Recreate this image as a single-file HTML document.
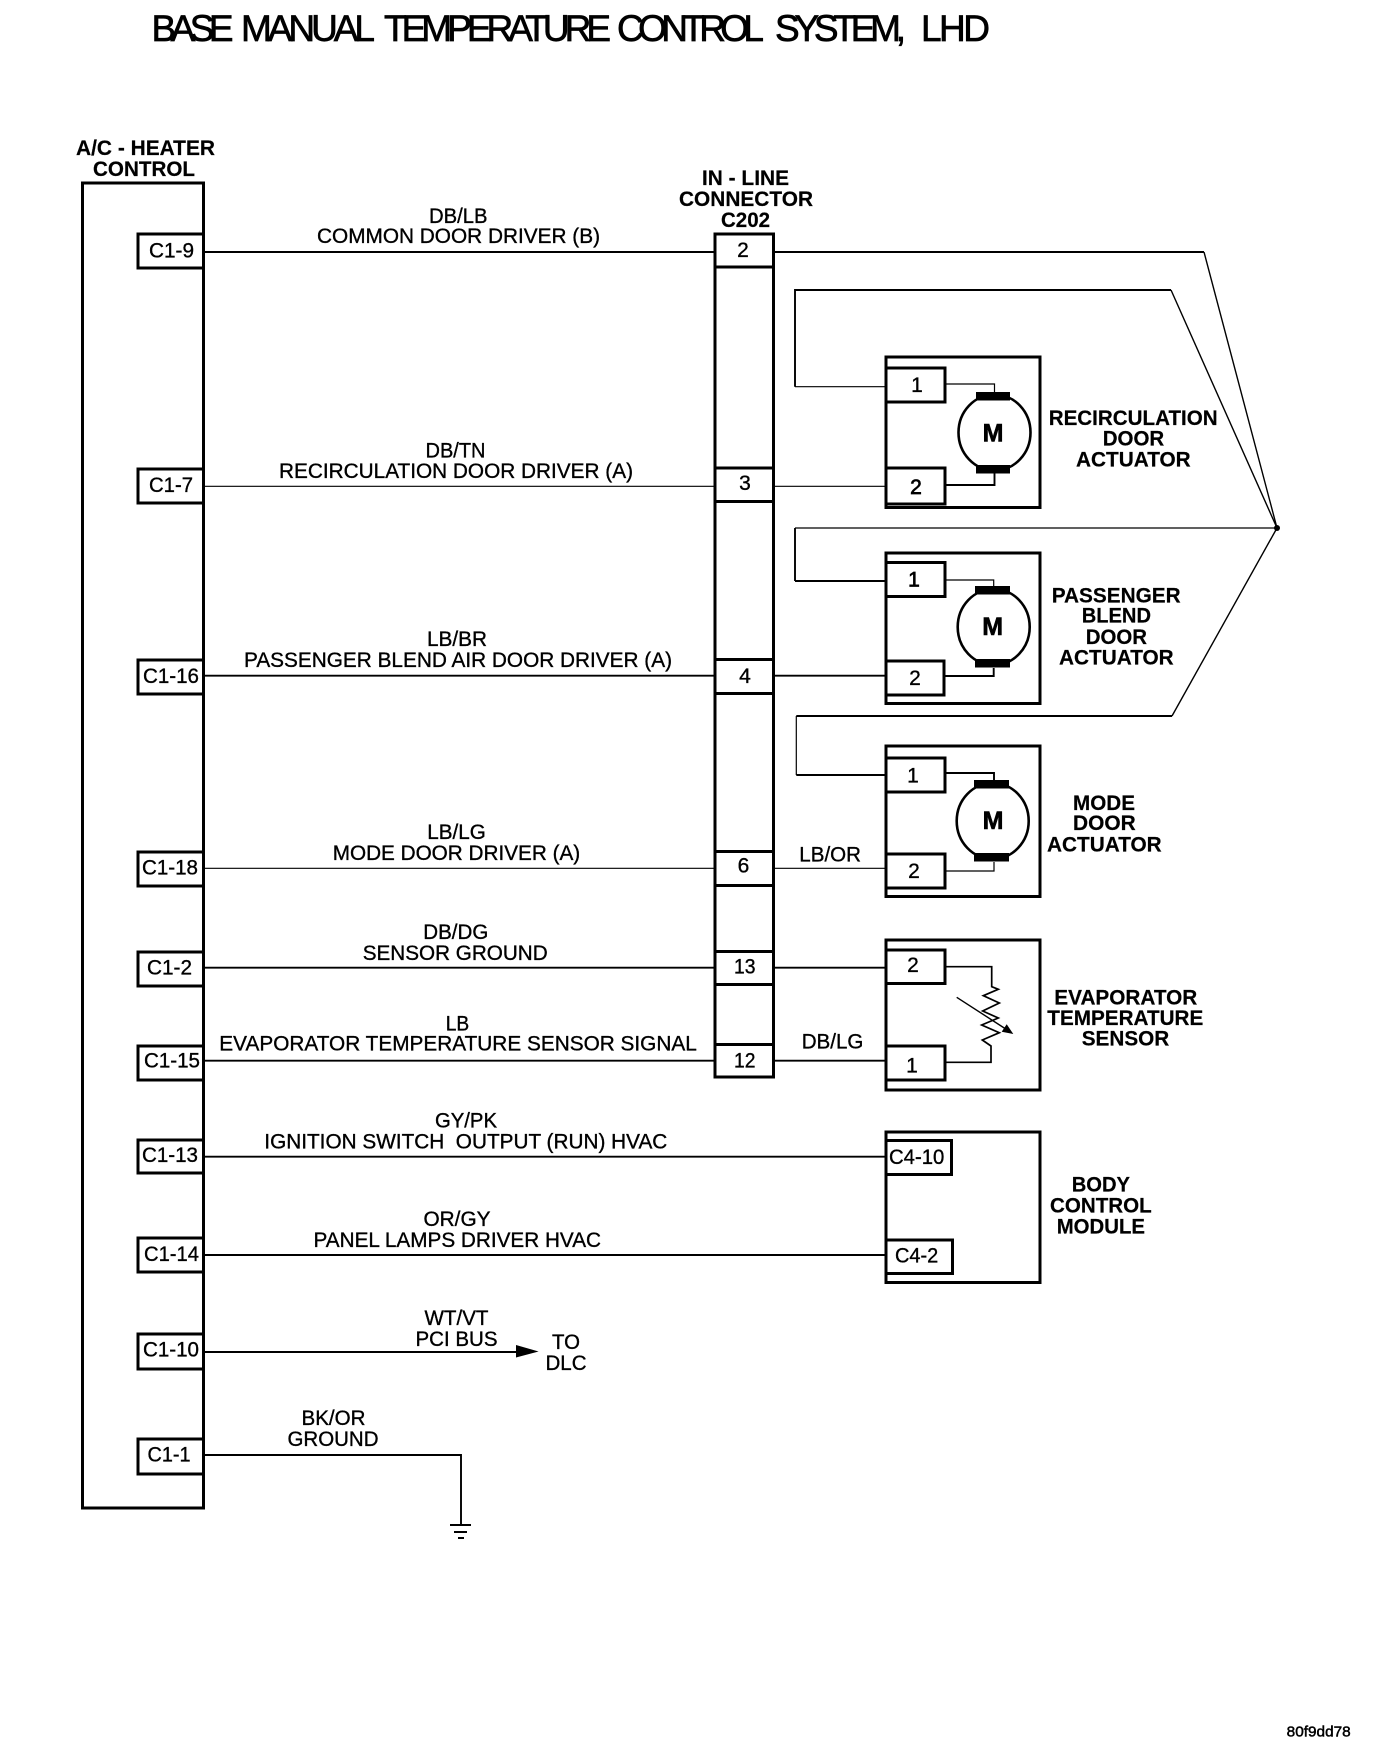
<!DOCTYPE html>
<html><head><meta charset="utf-8"><title>Base Manual Temperature Control System, LHD</title>
<style>
html,body{margin:0;padding:0;background:#fff;width:1392px;height:1750px;overflow:hidden}
svg{display:block}
text{font-family:"Liberation Sans",sans-serif;font-size:21px;fill:#000;stroke:#000;stroke-width:.35;white-space:pre}
.b{font-weight:bold;stroke-width:.2}
.h{font-size:37px;stroke-width:.7}
.box{fill:#fff;stroke:#000;stroke-width:3}
.w{fill:none;stroke:#000;stroke-width:1.9}
.t{fill:none;stroke:#000;stroke-width:1.2}
.d{fill:none;stroke:#000;stroke-width:1.4}
.m{fill:#fff;stroke:#000;stroke-width:2.6}
</style></head><body>
<svg xmlns="http://www.w3.org/2000/svg" width="1392" height="1750" viewBox="0 0 1392 1750">
<rect width="1392" height="1750" fill="#fff"/>
<text class="h" x="151.500" y="41" textLength="82" lengthAdjust="spacing">BASE</text>
<text class="h" x="241" y="41" textLength="134" lengthAdjust="spacing">MANUAL</text>
<text class="h" x="384" y="41" textLength="227" lengthAdjust="spacing">TEMPERATURE</text>
<text class="h" x="617" y="41" textLength="147" lengthAdjust="spacing">CONTROL</text>
<text class="h" x="775" y="41" textLength="131" lengthAdjust="spacing">SYSTEM,</text>
<text class="h" x="921" y="41" textLength="69" lengthAdjust="spacing">LHD</text>

<!-- A/C heater control -->
<rect class="box" x="82.500" y="183" width="121" height="1325"/>
<text class="b" x="76" y="155" textLength="139" lengthAdjust="spacingAndGlyphs">A/C - HEATER</text>
<text class="b" x="93" y="176" textLength="102" lengthAdjust="spacingAndGlyphs">CONTROL</text>

<rect class="box" x="138" y="234" width="65.500" height="34"/>
<rect class="box" x="138" y="469" width="65.500" height="34"/>
<rect class="box" x="138" y="660" width="65.500" height="34"/>
<rect class="box" x="138" y="852" width="65.500" height="34"/>
<rect class="box" x="138" y="952" width="65.500" height="34"/>
<rect class="box" x="138" y="1046" width="65.500" height="34"/>
<rect class="box" x="138" y="1140" width="65.500" height="33"/>
<rect class="box" x="138" y="1238" width="65.500" height="34"/>
<rect class="box" x="138" y="1334" width="65.500" height="35"/>
<rect class="box" x="138" y="1439" width="65.500" height="35"/>

<text x="149" y="257.500" textLength="45" lengthAdjust="spacingAndGlyphs">C1-9</text>
<text x="149" y="492" textLength="44" lengthAdjust="spacingAndGlyphs">C1-7</text>
<text x="143" y="683" textLength="56" lengthAdjust="spacingAndGlyphs">C1-16</text>
<text x="142" y="874.500" textLength="56" lengthAdjust="spacingAndGlyphs">C1-18</text>
<text x="147" y="974.500" textLength="45" lengthAdjust="spacingAndGlyphs">C1-2</text>
<text x="144" y="1067.500" textLength="56" lengthAdjust="spacingAndGlyphs">C1-15</text>
<text x="142" y="1162" textLength="56" lengthAdjust="spacingAndGlyphs">C1-13</text>
<text x="144" y="1261" textLength="55" lengthAdjust="spacingAndGlyphs">C1-14</text>
<text x="143" y="1356.500" textLength="56" lengthAdjust="spacingAndGlyphs">C1-10</text>
<text x="147.500" y="1461.500" textLength="43" lengthAdjust="spacingAndGlyphs">C1-1</text>

<!-- C202 -->
<rect class="box" x="715" y="234" width="58.500" height="843"/>
<g stroke="#000" stroke-width="3">
<line x1="715" x2="773.500" y1="267" y2="267"/>
<line x1="715" x2="773.500" y1="468" y2="468"/>
<line x1="715" x2="773.500" y1="501.500" y2="501.500"/>
<line x1="715" x2="773.500" y1="659.500" y2="659.500"/>
<line x1="715" x2="773.500" y1="693.500" y2="693.500"/>
<line x1="715" x2="773.500" y1="851.500" y2="851.500"/>
<line x1="715" x2="773.500" y1="885.500" y2="885.500"/>
<line x1="715" x2="773.500" y1="951.500" y2="951.500"/>
<line x1="715" x2="773.500" y1="984.500" y2="984.500"/>
<line x1="715" x2="773.500" y1="1044.500" y2="1044.500"/>
</g>
<text class="b" x="702" y="185" textLength="87" lengthAdjust="spacingAndGlyphs">IN - LINE</text>
<text class="b" x="679" y="206" textLength="134" lengthAdjust="spacingAndGlyphs">CONNECTOR</text>
<text class="b" x="721" y="227" textLength="49" lengthAdjust="spacingAndGlyphs">C202</text>
<text x="743" y="257" text-anchor="middle">2</text>
<text x="745" y="490" text-anchor="middle">3</text>
<text x="745" y="683" text-anchor="middle">4</text>
<text x="743.500" y="872.500" text-anchor="middle">6</text>
<text x="734" y="973.500" textLength="21.500" lengthAdjust="spacingAndGlyphs">13</text>
<text x="734" y="1067.500" textLength="21.500" lengthAdjust="spacingAndGlyphs">12</text>

<!-- main wires -->
<line class="w" x1="204" x2="715" y1="252" y2="252"/>
<line class="t" x1="204" x2="715" y1="486.300" y2="486.300"/>
<line class="t" x1="774" x2="885" y1="486.300" y2="486.300"/>
<line class="w" x1="204" x2="715" y1="675.700" y2="675.700"/>
<line class="w" x1="774" x2="885" y1="675.700" y2="675.700"/>
<line class="t" x1="204" x2="715" y1="868.300" y2="868.300"/>
<line class="t" x1="774" x2="885" y1="868.300" y2="868.300"/>
<line class="w" x1="204" x2="715" y1="967.700" y2="967.700"/>
<line class="w" x1="774" x2="885" y1="967.700" y2="967.700"/>
<line class="w" x1="204" x2="715" y1="1060.700" y2="1060.700"/>
<line class="w" x1="774" x2="885" y1="1060.700" y2="1060.700"/>
<line class="w" x1="204" x2="885" y1="1156.700" y2="1156.700"/>
<line class="w" x1="204" x2="885" y1="1255" y2="1255"/>
<line class="w" x1="204" x2="520" y1="1352" y2="1352"/>
<polygon points="516,1345 538.600,1351.500 516,1357.500" fill="#000"/>
<polyline class="w" points="204,1455 461,1455 461,1525"/>
<g stroke="#000" stroke-width="2">
<line x1="450" x2="471" y1="1525" y2="1525"/>
<line x1="454" x2="467" y1="1532" y2="1532"/>
<line x1="458" x2="464" y1="1538" y2="1538"/>
</g>

<!-- harness to splice -->
<line class="w" x1="774" x2="1204" y1="252" y2="252"/>
<line class="d" x1="1204" y1="252" x2="1277" y2="528"/>
<polyline class="w" points="795,386.700 795,290 1171,290"/>
<line class="d" x1="1171" y1="290" x2="1277" y2="528"/>
<line class="t" x1="795" x2="885" y1="386.700" y2="386.700"/>
<polyline class="t" points="1277,528 795,528"/>
<line x1="795" x2="795" y1="528" y2="581" stroke="#000" stroke-width="1.900"/>
<line class="w" x1="795" x2="885" y1="581" y2="581"/>
<polyline class="d" points="1277,528 1172,716"/>
<line class="w" x1="1172" x2="796.300" y1="716" y2="716"/>
<line class="t" x1="796.300" x2="796.300" y1="716" y2="775"/>
<line class="w" x1="796.300" x2="885" y1="775" y2="775"/>
<circle cx="1277" cy="528" r="3" fill="#000"/>

<!-- wire labels -->
<text x="429" y="223" textLength="58.500" lengthAdjust="spacingAndGlyphs">DB/LB</text>
<text x="317" y="243" textLength="283" lengthAdjust="spacingAndGlyphs">COMMON DOOR DRIVER (B)</text>
<text x="425.500" y="457.700" textLength="60" lengthAdjust="spacingAndGlyphs">DB/TN</text>
<text x="279" y="478" textLength="354" lengthAdjust="spacingAndGlyphs">RECIRCULATION DOOR DRIVER (A)</text>
<text x="427" y="646" textLength="60" lengthAdjust="spacingAndGlyphs">LB/BR</text>
<text x="244" y="667" textLength="428" lengthAdjust="spacingAndGlyphs">PASSENGER BLEND AIR DOOR DRIVER (A)</text>
<text x="427.300" y="839" textLength="58.500" lengthAdjust="spacingAndGlyphs">LB/LG</text>
<text x="332.700" y="860" textLength="247.500" lengthAdjust="spacingAndGlyphs">MODE DOOR DRIVER (A)</text>
<text x="423.300" y="939" textLength="65" lengthAdjust="spacingAndGlyphs">DB/DG</text>
<text x="362.700" y="960" textLength="185" lengthAdjust="spacingAndGlyphs">SENSOR GROUND</text>
<text x="445.700" y="1030.700" textLength="23.500" lengthAdjust="spacingAndGlyphs">LB</text>
<text x="219.300" y="1050.700" textLength="477.500" lengthAdjust="spacingAndGlyphs">EVAPORATOR TEMPERATURE SENSOR SIGNAL</text>
<text x="435" y="1127.700" textLength="62" lengthAdjust="spacingAndGlyphs">GY/PK</text>
<text x="264.300" y="1148.300" textLength="403" lengthAdjust="spacingAndGlyphs">IGNITION SWITCH  OUTPUT (RUN) HVAC</text>
<text x="423.500" y="1226" textLength="67" lengthAdjust="spacingAndGlyphs">OR/GY</text>
<text x="313.500" y="1247" textLength="287.500" lengthAdjust="spacingAndGlyphs">PANEL LAMPS DRIVER HVAC</text>
<text x="424.500" y="1325" textLength="64" lengthAdjust="spacingAndGlyphs">WT/VT</text>
<text x="415.500" y="1346" textLength="82" lengthAdjust="spacingAndGlyphs">PCI BUS</text>
<text x="552" y="1349" textLength="28" lengthAdjust="spacingAndGlyphs">TO</text>
<text x="545.500" y="1370" textLength="41" lengthAdjust="spacingAndGlyphs">DLC</text>
<text x="301.500" y="1425" textLength="64" lengthAdjust="spacingAndGlyphs">BK/OR</text>
<text x="287.500" y="1446" textLength="91" lengthAdjust="spacingAndGlyphs">GROUND</text>
<text x="799.300" y="861.700" textLength="61.700" lengthAdjust="spacingAndGlyphs">LB/OR</text>
<text x="801.700" y="1048.300" textLength="61.700" lengthAdjust="spacingAndGlyphs">DB/LG</text>

<!-- Recirculation actuator -->
<rect class="box" x="886" y="357" width="154" height="150.500"/>
<rect class="box" x="886" y="368" width="59" height="34"/>
<rect class="box" x="886" y="468" width="59" height="36"/>
<polyline class="t" points="945,384 994.500,384 994.500,392"/>
<polyline class="w" points="945,485 994.500,485 994.500,473"/>
<ellipse class="m" cx="994.500" cy="432.500" rx="36" ry="38"/>
<rect x="976" y="392" width="34" height="8.500" fill="#000"/>
<rect x="976" y="465" width="34" height="8.500" fill="#000"/>
<text class="b" x="993" y="441.500" text-anchor="middle" style="font-size:25px;stroke-width:.6">M</text>
<text x="917" y="392" text-anchor="middle">1</text>
<text x="916" y="494" text-anchor="middle" style="stroke-width:.7">2</text>
<text class="b" x="1048.700" y="425" textLength="169" lengthAdjust="spacingAndGlyphs">RECIRCULATION</text>
<text class="b" x="1102.700" y="445.700" textLength="61.500" lengthAdjust="spacingAndGlyphs">DOOR</text>
<text class="b" x="1076" y="466.700" textLength="114.700" lengthAdjust="spacingAndGlyphs">ACTUATOR</text>

<!-- Passenger blend actuator -->
<rect class="box" x="886" y="553" width="154" height="150.500"/>
<rect class="box" x="886" y="562.500" width="59" height="34"/>
<rect class="box" x="886" y="661" width="58" height="34"/>
<polyline class="t" points="945,580 993.700,580 993.700,586"/>
<polyline class="w" points="944,676 993.700,676 993.700,668"/>
<ellipse class="m" cx="993.700" cy="627" rx="36" ry="38"/>
<rect x="975" y="586" width="35" height="8.500" fill="#000"/>
<rect x="975" y="659" width="35" height="8.500" fill="#000"/>
<text class="b" x="992.700" y="635" text-anchor="middle" style="font-size:25px;stroke-width:.6">M</text>
<text x="914" y="586.700" text-anchor="middle" style="stroke-width:.7">1</text>
<text x="915" y="685" text-anchor="middle">2</text>
<text class="b" x="1051.700" y="602.700" textLength="129" lengthAdjust="spacingAndGlyphs">PASSENGER</text>
<text class="b" x="1081.700" y="622.700" textLength="69.300" lengthAdjust="spacingAndGlyphs">BLEND</text>
<text class="b" x="1085.700" y="644" textLength="61.300" lengthAdjust="spacingAndGlyphs">DOOR</text>
<text class="b" x="1059" y="664.700" textLength="114.700" lengthAdjust="spacingAndGlyphs">ACTUATOR</text>

<!-- Mode actuator -->
<rect class="box" x="886" y="746" width="154" height="150.500"/>
<rect class="box" x="886" y="758" width="59" height="34"/>
<rect class="box" x="886" y="854" width="59" height="34"/>
<polyline class="w" points="945,773 994,773 994,780"/>
<polyline class="t" points="945,871 994,871 994,862"/>
<ellipse class="m" cx="992.700" cy="821" rx="36" ry="38"/>
<rect x="974" y="780" width="35" height="8.500" fill="#000"/>
<rect x="974" y="853" width="35" height="8.500" fill="#000"/>
<text class="b" x="993" y="829" text-anchor="middle" style="font-size:25px;stroke-width:.6">M</text>
<text x="913" y="782.700" text-anchor="middle">1</text>
<text x="914" y="878" text-anchor="middle">2</text>
<text class="b" x="1073" y="810" textLength="62" lengthAdjust="spacingAndGlyphs">MODE</text>
<text class="b" x="1073" y="830" textLength="62.700" lengthAdjust="spacingAndGlyphs">DOOR</text>
<text class="b" x="1047" y="851.700" textLength="114.700" lengthAdjust="spacingAndGlyphs">ACTUATOR</text>

<!-- Evaporator sensor -->
<rect class="box" x="886" y="940" width="154" height="150"/>
<rect class="box" x="886" y="950" width="59" height="33.500"/>
<rect class="box" x="886" y="1046" width="59" height="34"/>
<polyline fill="none" stroke="#000" stroke-width="1.700" points="945,966.700 991.700,966.700 991.700,986.700 998.300,989.300 983.300,995.700 999.300,1003 982.700,1011 998.300,1018 981.700,1025 999.300,1032.700 982.300,1040 991,1046 991,1062.300 945,1062.300"/>
<line class="d" x1="956.700" y1="997.300" x2="1005" y2="1028.500"/>
<polygon points="1013.300,1034 1001.700,1031.700 1006.700,1024.300" fill="#000"/>
<text x="913" y="972" text-anchor="middle">2</text>
<text x="912" y="1072.700" text-anchor="middle">1</text>
<text class="b" x="1054.300" y="1004.300" textLength="143" lengthAdjust="spacingAndGlyphs">EVAPORATOR</text>
<text class="b" x="1047.300" y="1025" textLength="156" lengthAdjust="spacingAndGlyphs">TEMPERATURE</text>
<text class="b" x="1081.700" y="1045.300" textLength="87.600" lengthAdjust="spacingAndGlyphs">SENSOR</text>

<!-- Body control module -->
<rect class="box" x="886" y="1132" width="154" height="150.500"/>
<rect class="box" x="886" y="1140.500" width="65.500" height="34"/>
<rect class="box" x="886" y="1240" width="66.500" height="33.500"/>
<text x="889" y="1164" textLength="55.300" lengthAdjust="spacingAndGlyphs">C4-10</text>
<text x="895" y="1262.700" textLength="43.300" lengthAdjust="spacingAndGlyphs">C4-2</text>
<text class="b" x="1071.700" y="1191.700" textLength="58.300" lengthAdjust="spacingAndGlyphs">BODY</text>
<text class="b" x="1050" y="1212.700" textLength="101.700" lengthAdjust="spacingAndGlyphs">CONTROL</text>
<text class="b" x="1056.700" y="1233.300" textLength="88.300" lengthAdjust="spacingAndGlyphs">MODULE</text>

<text x="1286.700" y="1736.700" style="font-size:15px;stroke-width:.5" textLength="64" lengthAdjust="spacingAndGlyphs">80f9dd78</text>
</svg>
</body></html>
